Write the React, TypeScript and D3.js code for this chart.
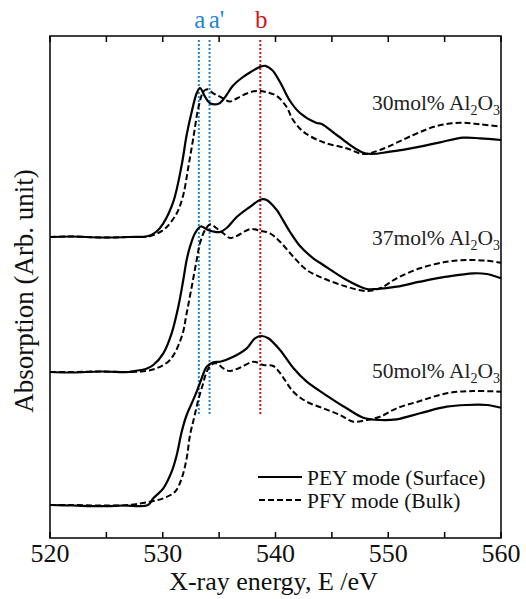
import * as d3 from "d3";

const W = 526;
const H = 599;
const M = {left: 50, right: 25, top: 36, bottom: 61};

// energy (eV), normalized absorption (baseline = 0)
const PEY_30 = [
  [520, 0], [522, 0.005], [524.5, -0.005], [527, 0], [528.7, 0.01], [529.4, 0.05],
  [530.05, 0.137], [530.94, 0.353], [531.68, 0.72], [532.12, 1.02], [532.57, 1.253],
  [533.01, 1.437], [533.3, 1.49], [533.75, 1.403], [534.19, 1.337], [535.0, 1.335],
  [535.6, 1.41], [536.2, 1.51], [537.0, 1.59], [537.8, 1.65], [538.6, 1.7],
  [539.1, 1.712], [539.7, 1.67], [540.4, 1.55], [541.29, 1.36], [542.17, 1.24],
  [543.65, 1.14], [544.1, 1.13], [545.43, 1.02], [547.94, 0.837], [550.16, 0.853],
  [552.82, 0.903], [554.59, 0.947], [556.66, 0.993], [558.14, 0.987], [560, 0.97],
];
const PFY_30 = [
  [520, 0], [522, 0.005], [524.5, -0.005], [527, 0], [528.9, 0.01], [530.05, 0.07],
  [530.64, 0.137], [531.3, 0.25], [531.82, 0.42], [532.27, 0.7], [532.71, 0.99],
  [533.15, 1.287], [533.6, 1.453], [533.95, 1.477], [534.48, 1.437], [535.08, 1.403],
  [535.96, 1.355], [536.56, 1.385], [537.45, 1.435], [538.33, 1.46], [539.22, 1.447],
  [540.11, 1.41], [540.99, 1.3], [541.5, 1.18], [542.47, 1.053], [544.24, 0.947],
  [546.31, 0.887], [547.79, 0.83], [549.27, 0.87], [552.22, 1.02], [554.3, 1.11],
  [556.36, 1.143], [558.14, 1.127], [560, 1.103],
];
const PEY_37 = [
  [520, 0], [522, -0.005], [524.5, 0.005], [527, 0], [527.5, 0.01], [528.5, 0.03],
  [529.16, 0.07], [530.05, 0.187], [530.79, 0.387], [531.38, 0.653], [531.82, 0.92],
  [532.12, 1.12], [532.42, 1.253], [532.86, 1.387], [533.37, 1.455], [533.9, 1.427],
  [534.48, 1.405], [535.08, 1.4], [535.67, 1.44], [536.56, 1.55], [537.59, 1.64],
  [538.78, 1.727], [539.22, 1.72], [540.11, 1.62], [540.4, 1.57], [541.29, 1.4],
  [542.17, 1.26], [543.35, 1.137], [544.24, 1.07], [546.31, 0.92], [548.09, 0.83],
  [548.98, 0.83], [550.75, 0.853], [552.82, 0.903], [555.18, 0.953], [557.54, 0.987],
  [558.73, 0.98], [560, 0.937],
];
const PFY_37 = [
  [520, 0], [522, 0], [524.5, 0.005], [527, 0], [528.5, 0.01], [529.5, 0.04],
  [530.64, 0.12], [531.68, 0.353], [532.12, 0.587], [532.57, 0.853], [533.01, 1.12],
  [533.3, 1.287], [533.75, 1.42], [534.25, 1.477], [534.78, 1.437], [535.37, 1.387],
  [535.96, 1.34], [536.56, 1.36], [537.76, 1.43], [538.63, 1.413], [539.51, 1.387],
  [540.4, 1.303], [541.58, 1.153], [542.77, 1.02], [544.24, 0.937],
  [546.31, 0.853], [548.09, 0.81], [549.27, 0.837], [550.75, 0.937], [552.82, 1.037],
  [555.18, 1.103], [556.95, 1.12], [558.73, 1.113], [560, 1.093],
];
const PEY_50 = [
  [520, 0], [522, -0.005], [524.5, -0.012], [526.5, -0.005], [528.69, 0], [529.16, 0.067],
  [530.05, 0.167], [530.79, 0.333], [531.24, 0.5], [531.68, 0.733], [532.12, 0.9],
  [532.57, 1.017], [533.01, 1.133], [533.45, 1.267], [533.9, 1.383], [534.48, 1.427],
  [535.08, 1.433], [536.26, 1.483], [537.45, 1.567], [538.18, 1.667], [538.78, 1.69],
  [539.36, 1.667], [540.4, 1.55], [541.58, 1.37], [542.77, 1.233], [544.24, 1.117],
  [546.31, 0.967], [547.79, 0.873], [549.27, 0.85], [550.75, 0.857], [552.82, 0.917],
  [555.18, 0.983], [556.95, 1.0], [558.73, 1.0], [560, 0.973],
];
const PFY_50 = [
  [520, 0], [522, 0], [524.5, -0.005], [527, 0], [528.87, 0.033], [530.05, 0.067],
  [531.09, 0.133], [531.68, 0.267], [532.12, 0.467], [532.42, 0.7], [532.77, 0.867],
  [533.15, 1.05], [533.54, 1.2], [533.9, 1.333], [534.34, 1.407], [534.78, 1.417],
  [535.37, 1.367], [535.96, 1.34], [536.85, 1.373], [538.04, 1.433], [538.92, 1.4],
  [539.8, 1.39], [540.4, 1.32], [541.58, 1.133], [542.77, 1.033], [544.24, 0.967],
  [545.72, 0.9], [546.9, 0.833], [548.09, 0.85], [549.27, 0.883], [550.75, 0.967],
  [552.82, 1.04], [555.18, 1.117], [557.54, 1.14], [560, 1.133],
];

const SAMPLES = ["30", "37", "50"];
const OFFSETS = [3.01, 1.66, 0.33];
const PEY = [PEY_30, PEY_37, PEY_50];
const PFY = [PFY_30, PFY_37, PFY_50];

const MARKERS = [
  {label: "a", energy: 533.2, color: "#1f86d6"},
  {label: "a'", energy: 534.15, color: "#1f86d6"},
  {label: "b", energy: 538.65, color: "#d01818"},
];
const X_TICKS = [520, 530, 540, 550, 560];
const X_MINOR = [525, 535, 545, 555];

const FONT = "'Liberation Serif', 'Times New Roman', serif";

export default function App() {
  const x = d3.scaleLinear().domain([520, 560]).range([M.left, W - M.right]);
  const y = d3.scaleLinear().domain([0, 5.02]).range([H - M.bottom, M.top]);
  const x0 = M.left, x1 = W - M.right, y0 = M.top, y1 = H - M.bottom;

  const line = (off: number) =>
    d3.line<number[]>()
      .x((d) => x(d[0]))
      .y((d) => y(d[1] + off))
      .curve(d3.curveCatmullRom.alpha(0.5));

  const ticks = [...X_TICKS, ...X_MINOR];

  return (
    <svg width={W} height={H} style={{position: "absolute", left: 0, top: 0, background: "#fff"}}
         fontFamily={FONT}>
      {/* marker lines */}
      {MARKERS.map((m) => (
        <g key={m.label}>
          <line x1={x(m.energy)} x2={x(m.energy)} y1={y(4.98)} y2={y(1.23)}
                stroke={m.color} strokeWidth={2} strokeDasharray="2,2" />
          <text x={x(m.energy) + (m.label === "a'" ? 7 : 1)} y={28} fontSize={25}
                textAnchor="middle" fill={m.color}>{m.label}</text>
        </g>
      ))}

      {/* spectra */}
      {SAMPLES.map((s, i) => (
        <g key={s} fill="none" stroke="#000">
          <path d={line(OFFSETS[i])(PFY[i]) || ""} strokeWidth={2} strokeDasharray="6,3" />
          <path d={line(OFFSETS[i])(PEY[i]) || ""} strokeWidth={2.2} />
        </g>
      ))}

      {/* sample labels */}
      {SAMPLES.map((s, i) => (
        <text key={s} x={x1 - 1} y={y(OFFSETS[i] + 1.27)} fontSize={21.5} textAnchor="end" fill="#222">
          {s}mol% Al<tspan fontSize={14} dy={5}>2</tspan>
          <tspan dy={-5}>O</tspan>
          <tspan fontSize={14} dy={5}>3</tspan>
        </text>
      ))}

      {/* frame */}
      <rect x={x0} y={y0} width={x1 - x0} height={y1 - y0} fill="none" stroke="#000" strokeWidth={1.5} />
      {ticks.map((t) => (
        <g key={t} stroke="#000" strokeWidth={1.5}>
          <line x1={x(t)} x2={x(t)} y1={y1} y2={y1 - 6} />
          <line x1={x(t)} x2={x(t)} y1={y0} y2={y0 + 6} />
        </g>
      ))}
      {X_TICKS.map((t) => (
        <text key={t} x={x(t)} y={y1 + 24} fontSize={26} textAnchor="middle" fill="#111">{t}</text>
      ))}

      {/* axis titles */}
      <text x={(x0 + x1) / 2 - 2} y={590} fontSize={26} textAnchor="middle" fill="#111">
        X-ray energy, E /eV
      </text>
      <text transform={`translate(33,${(y0 + y1) / 2 + 4}) rotate(-90)`} fontSize={27}
            textAnchor="middle" fill="#111">Absorption (Arb. unit)</text>

      {/* legend */}
      <line x1={258} x2={302} y1={477} y2={477} stroke="#000" strokeWidth={2.2} />
      <text x={307} y={485} fontSize={21.5} fill="#111">PEY mode (Surface)</text>
      <line x1={259} x2={302} y1={500} y2={500} stroke="#000" strokeWidth={2} strokeDasharray="6,3" />
      <text x={307} y={508} fontSize={21.5} fill="#111">PFY mode (Bulk)</text>
    </svg>
  );
}
